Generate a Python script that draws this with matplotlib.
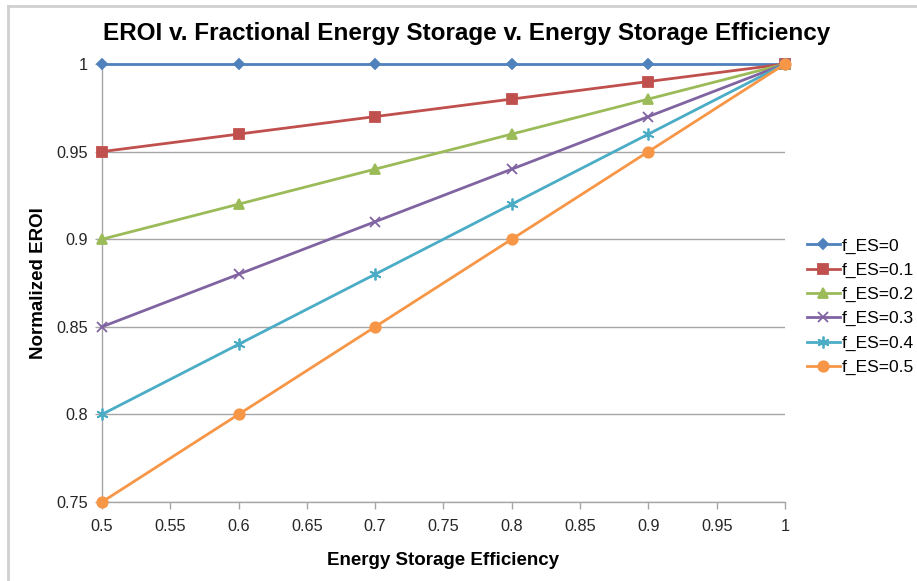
import matplotlib
matplotlib.use("Agg")
import matplotlib.pyplot as plt
from matplotlib.lines import Line2D

plt.rcParams['font.family'] = ['Liberation Sans', 'DejaVu Sans']

# storage efficiency on the x axis
efficiency = [0.5, 0.6, 0.7, 0.8, 0.9, 1.0]

# normalized EROI for each fraction of energy stored
eroi_f0 = [1.0, 1.0, 1.0, 1.0, 1.0, 1.0]
eroi_f01 = [0.95, 0.96, 0.97, 0.98, 0.99, 1.0]
eroi_f02 = [0.90, 0.92, 0.94, 0.96, 0.98, 1.0]
eroi_f03 = [0.85, 0.88, 0.91, 0.94, 0.97, 1.0]
eroi_f04 = [0.80, 0.84, 0.88, 0.92, 0.96, 1.0]
eroi_f05 = [0.75, 0.80, 0.85, 0.90, 0.95, 1.0]

series_labels = ['f_ES=0', 'f_ES=0.1', 'f_ES=0.2', 'f_ES=0.3', 'f_ES=0.4', 'f_ES=0.5']
x_ticks = [0.5, 0.55, 0.6, 0.65, 0.7, 0.75, 0.8, 0.85, 0.9, 0.95, 1.0]
y_ticks = [0.75, 0.8, 0.85, 0.9, 0.95, 1.0]

series = [eroi_f0, eroi_f01, eroi_f02, eroi_f03, eroi_f04, eroi_f05]
colors = ['#4F81BD', '#C0504D', '#9BBB59', '#8064A2', '#4BACC6', '#F79646']
markers = ['D', 's', '^', 'x', (6, 2, 0), 'o']
sizes = [5.5, 7.5, 7.5, 7.5, 8.5, 7.5]

fig = plt.figure(figsize=(9.17, 5.81), dpi=100)
ax = fig.add_axes([0.1112, 0.136, 0.856 - 0.1112, 0.8898 - 0.136])

handles = []
for vals, lab, c, m, s in zip(series, series_labels, colors, markers, sizes):
    ln, = ax.plot(efficiency, vals, color=c, lw=2.0, marker=m, ms=s,
                  mec=c, mfc=c, mew=1.3, label=lab, clip_on=False, zorder=3)
    handles.append(ln)

ax.set_xlim(0.5, 1.0)
ax.set_ylim(0.75, 1.0)
ax.set_xticks(x_ticks)
ax.set_xticklabels(['0.5', '0.55', '0.6', '0.65', '0.7', '0.75', '0.8', '0.85', '0.9', '0.95', '1'])
ax.set_yticks(y_ticks)
ax.set_yticklabels(['0.75', '0.8', '0.85', '0.9', '0.95', '1'])
ax.yaxis.grid(True, color='#A6A6A6', lw=1.0)
ax.set_axisbelow(True)

for side in ['top', 'right']:
    ax.spines[side].set_visible(False)
for side in ['left', 'bottom']:
    ax.spines[side].set_color('#A6A6A6')
    ax.spines[side].set_linewidth(1.0)
ax.tick_params(axis='both', colors='#A6A6A6', labelcolor='#262626',
               labelsize=11.7, length=5, width=1.0, direction='out')
ax.tick_params(axis='x', pad=7)
ax.tick_params(axis='y', pad=5)

ax.set_xlabel('Energy Storage Efficiency', fontsize=13.5, fontweight='bold', labelpad=13)
ax.set_ylabel('Normalized EROI', fontsize=13.5, fontweight='bold', labelpad=7)
fig.text(0.509, 0.942, 'EROI v. Fractional Energy Storage v. Energy Storage Efficiency',
         fontsize=17.5, fontweight='bold', ha='center', va='center')

fig.legend(handles=handles, loc='upper left', bbox_to_anchor=(0.880, 0.590),
           frameon=False, fontsize=12.5, handlelength=1.9, handletextpad=0.1,
           labelspacing=0.52, borderaxespad=0, borderpad=0)

# thin frame around the chart area
fig.add_artist(Line2D([0.009, 0.009], [0.0, 0.99], transform=fig.transFigure,
                      color='#D0D0D0', lw=2))
fig.add_artist(Line2D([0.009, 1.0], [0.99, 0.99], transform=fig.transFigure,
                      color='#D0D0D0', lw=2))

fig.savefig('out.png', dpi=100)
